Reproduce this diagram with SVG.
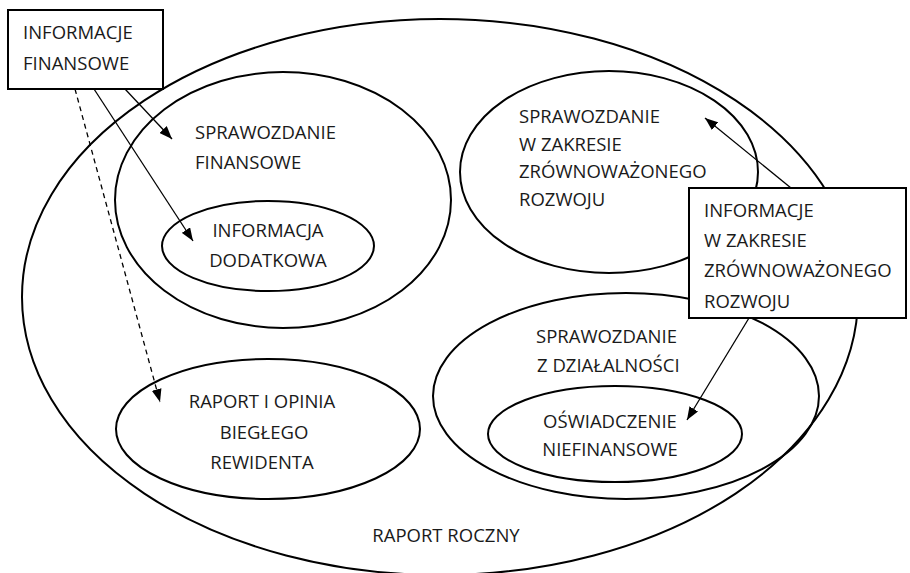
<svg xmlns="http://www.w3.org/2000/svg" width="910" height="573" viewBox="0 0 910 573">
<style>
.e{fill:none;stroke:#000;stroke-width:2}
.b{fill:#fff;stroke:#000;stroke-width:2}
.c{fill:none;stroke:#000;stroke-width:1.3}
.d{stroke-dasharray:5,4}
text{font-family:"Open Sans","Noto Sans",sans-serif;font-size:18.5px;fill:#1a1a1a}
.m{text-anchor:middle}
</style>
<defs>
<marker id="ah" markerUnits="userSpaceOnUse" markerWidth="14" markerHeight="10" refX="13" refY="5" orient="auto">
<path d="M0,0 L13,5 L0,10 Z" fill="#000"/>
</marker>
</defs>
<rect width="910" height="573" fill="#fff"/>
<g id="raport-roczny">
<ellipse class="e" cx="440" cy="297" rx="418" ry="278"/>
<text class="m" x="446" y="542">RAPORT ROCZNY</text>
</g>
<g id="sprawozdanie-finansowe">
<ellipse class="e" cx="283" cy="200" rx="168" ry="128"/>
<text x="195" y="139">SPRAWOZDANIE</text>
<text x="195" y="169">FINANSOWE</text>
</g>
<g id="informacja-dodatkowa">
<ellipse class="e" cx="268" cy="246" rx="106" ry="45"/>
<text class="m" x="268" y="237">INFORMACJA</text>
<text class="m" x="268" y="267">DODATKOWA</text>
</g>
<g id="sprawozdanie-zr">
<ellipse class="e" cx="609" cy="172" rx="149" ry="101"/>
<text x="519" y="123">SPRAWOZDANIE</text>
<text x="519" y="151">W ZAKRESIE</text>
<text x="519" y="178">ZRÓWNOWAŻONEGO</text>
<text x="519" y="206">ROZWOJU</text>
</g>
<g id="sprawozdanie-dzialalnosci">
<ellipse class="e" cx="626" cy="396" rx="193" ry="103"/>
<text x="536" y="343">SPRAWOZDANIE</text>
<text x="537" y="372">Z DZIAŁALNOŚCI</text>
</g>
<g id="oswiadczenie">
<ellipse class="e" cx="615" cy="434" rx="127" ry="48"/>
<text class="m" x="610" y="428">OŚWIADCZENIE</text>
<text class="m" x="610" y="456">NIEFINANSOWE</text>
</g>
<g id="raport-bieglego">
<ellipse class="e" cx="268" cy="429" rx="152" ry="70"/>
<text class="m" x="262" y="408">RAPORT I OPINIA</text>
<text class="m" x="264" y="439">BIEGŁEGO</text>
<text class="m" x="262" y="469">REWIDENTA</text>
</g>
<g id="informacje-finansowe">
<rect class="b" x="8" y="10" width="155" height="79"/>
<text x="23" y="39">INFORMACJE</text>
<text x="23" y="70">FINANSOWE</text>
</g>
<g id="informacje-zr">
<rect class="b" x="689" y="188" width="217" height="130"/>
<text x="704" y="217">INFORMACJE</text>
<text x="704" y="247">W ZAKRESIE</text>
<text x="704" y="277">ZRÓWNOWAŻONEGO</text>
<text x="704" y="308">ROZWOJU</text>
</g>
<g id="connectors">
<line class="c" x1="125" y1="89" x2="172" y2="139" marker-end="url(#ah)"/>
<line class="c" x1="94" y1="89" x2="193" y2="241" marker-end="url(#ah)"/>
<line class="c d" x1="75" y1="89" x2="160" y2="402" marker-end="url(#ah)"/>
<line class="c" x1="791" y1="188" x2="705" y2="118" marker-end="url(#ah)"/>
<line class="c" x1="749" y1="318" x2="687" y2="420" marker-end="url(#ah)"/>
</g>
</svg>
